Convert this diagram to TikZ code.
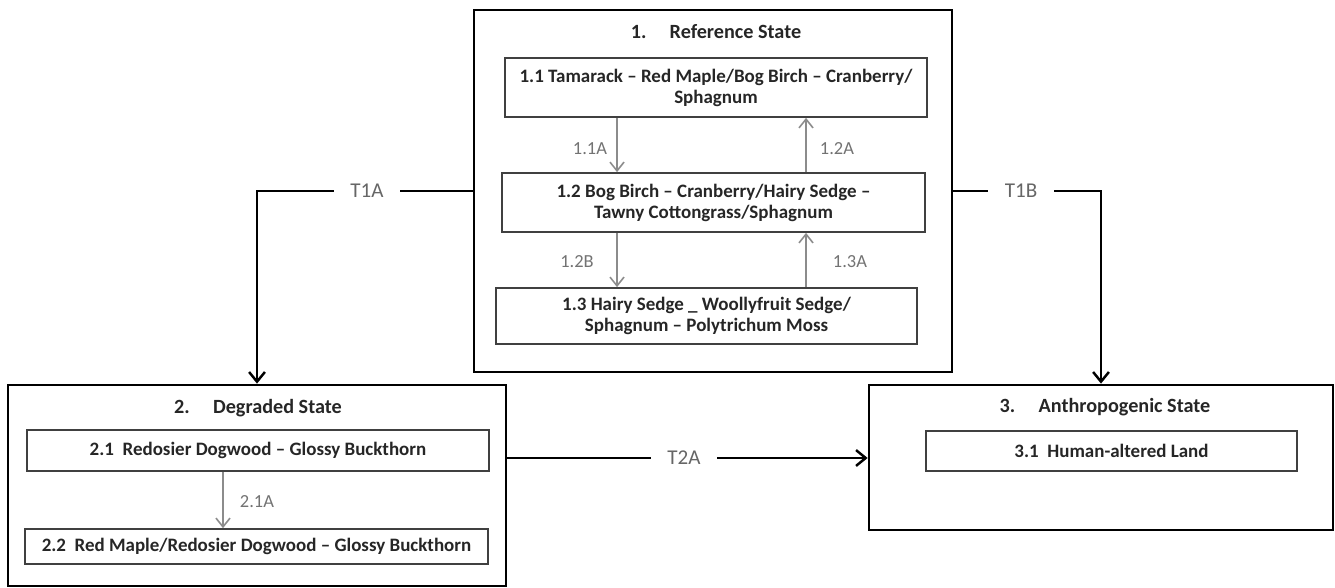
\documentclass[tikz,border=0pt]{standalone}
\usepackage{fontspec}
\setmainfont{Carlito}
\usetikzlibrary{arrows.meta}
\begin{document}
\begin{tikzpicture}[x=0.02cm,y=-0.02cm,
  outerbox/.style={draw=black, line width=1.6pt, inner sep=0pt},
  innerbox/.style={draw=black!75, line width=1pt, inner sep=2pt, align=center,
    font=\bfseries\fontsize{10.8}{12}\selectfont, text=black!85},
  titletext/.style={font=\bfseries\fontsize{11.5}{14}\selectfont, text=black!85},
  sarrow/.style={draw=black!45, line width=0.9pt, -{Straight Barb[length=5pt,width=8pt]}},
  slabel/.style={text=black!55, font=\fontsize{10.5}{12}\selectfont},
  tarrow/.style={draw=black, line width=1.4pt, -{Straight Barb[length=5.5pt,width=9pt]}},
  tlabel/.style={fill=white, text=black!60, font=\fontsize{12}{14}\selectfont, inner xsep=0.33cm, inner ysep=2pt},
]
\useasboundingbox (0,0) rectangle (1335,588);

% outer state boxes
\node[outerbox, minimum width=9.56cm, minimum height=7.24cm] (b1) at (713,191) {};
\node[outerbox, minimum width=9.96cm, minimum height=4.02cm] (b2) at (257,485.5) {};
\node[outerbox, minimum width=9.28cm, minimum height=2.90cm] (b3) at (1101,457.5) {};

% titles
\node[titletext] (h1) at (716,32) {1.\hspace{1.15em}Reference State};
\node[titletext] (h2) at (258,408) {2.\hspace{1.15em}Degraded State};
\node[titletext] (h3) at (1105,407) {3.\hspace{1.15em}Anthropogenic State};

% community phase boxes
\node[innerbox, minimum width=8.44cm, minimum height=1.18cm] (b11) at (716,87.5)
  {1.1 Tamarack -- Red Maple/Bog Birch -- Cranberry/\\Sphagnum};
\node[innerbox, minimum width=8.46cm, minimum height=1.18cm] (b12) at (713.5,202.5)
  {1.2 Bog Birch -- Cranberry/Hairy Sedge --\\Tawny Cottongrass/Sphagnum};
\node[innerbox, minimum width=8.42cm, minimum height=1.12cm] (b13) at (706.5,316)
  {1.3 Hairy Sedge \_ Woollyfruit Sedge/\\Sphagnum -- Polytrichum Moss};
\node[innerbox, minimum width=9.24cm, minimum height=0.82cm] (b21) at (258,450.5)
  {2.1~ Redosier Dogwood -- Glossy Buckthorn};
\node[innerbox, minimum width=9.26cm, minimum height=0.70cm] (b22) at (256.5,546.5)
  {2.2~ Red Maple/Redosier Dogwood -- Glossy Buckthorn};
\node[innerbox, minimum width=7.42cm, minimum height=0.80cm] (b31) at (1111.5,451)
  {3.1~ Human-altered Land};

% helper coordinates
\coordinate (xl) at (617,0);
\coordinate (xr) at (806,0);
\coordinate (x2) at (223,0);
\coordinate (yt) at (0,458);

% community pathways
\draw[sarrow] (b11.south -| xl) -- (b12.north -| xl);
\draw[sarrow] (b12.north -| xr) -- (b11.south -| xr);
\draw[sarrow] (b12.south -| xl) -- (b13.north -| xl);
\draw[sarrow] (b13.north -| xr) -- (b12.south -| xr);
\draw[sarrow] (b21.south -| x2) -- (b22.north -| x2);

\node[slabel] (l11a) at (590,149) {1.1A};
\node[slabel] (l12a) at (837,149) {1.2A};
\node[slabel] (l12b) at (577,262) {1.2B};
\node[slabel] (l13a) at (850,262) {1.3A};
\node[slabel] (l21a) at (257,502) {2.1A};

% transitions
\draw[tarrow] (b1.west) -| (b2.north);
\draw[tarrow] (b1.east) -| (b3.north);
\draw[tarrow] (b2.east |- yt) -- (b3.west |- yt);

\node[tlabel] (t1a) at (367,191) {T1A};
\node[tlabel] (t1b) at (1021,191) {T1B};
\node[tlabel] (t2a) at (684,458) {T2A};
\end{tikzpicture}
\end{document}
